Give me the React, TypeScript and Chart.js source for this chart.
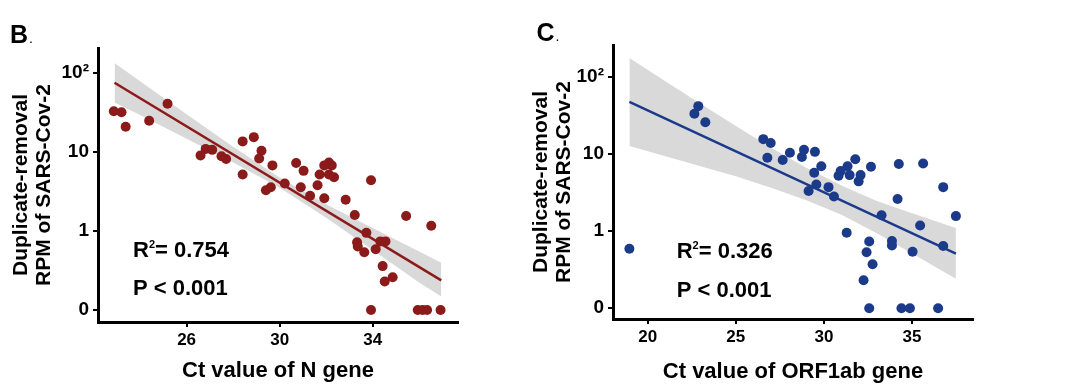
import React, { useEffect, useRef } from "react";
import { Chart, registerables } from "chart.js";

Chart.register(...registerables);

const FONT = "'Liberation Sans', Arial, Helvetica, sans-serif";

// ---------- Panel B: Ct value of N gene ----------
const nCt = [
  22.87, 23.2, 23.38, 24.39, 25.18, 26.6, 26.82, 27.1, 27.5, 27.7,
  28.41, 28.41, 28.89, 29.22, 29.12, 29.69, 29.41, 29.62, 30.22, 30.71,
  31.03, 30.91, 31.31, 31.63, 31.72, 31.92, 32.12, 32.24, 32.12, 32.34,
  31.92, 32.84, 33.23, 33.73, 33.93, 33.33, 33.36, 33.64, 34.13, 34.33,
  34.55, 34.43, 34.52, 34.86, 35.44, 36.52, 33.93, 35.94, 36.15, 36.34,
  36.92,
];
const nRpm = [
  33, 32, 21, 25, 41, 9.1, 11, 10.7, 8.9, 8.2,
  13.7, 5.2, 15.5, 10.4, 8.3, 6.8, 3.3, 3.6, 4.0, 7.3,
  5.8, 3.6, 2.8, 3.8, 5.2, 6.8, 7.4, 6.8, 5.2, 4.8,
  2.6, 2.5, 1.6, 0.95, 4.4, 0.72, 0.64, 0.54, 0.59, 0.74,
  0.74, 0.36, 0.23, 0.26, 1.55, 1.17, 0, 0, 0, 0,
  0,
];
// fitted line and 95% band, in log10(RPM) units
const nFitX = [22.9, 36.95];
const nFitLog = [1.88, -0.625];
const nBandX = [22.9, 24, 26, 28, 30, 32, 34, 36, 36.95];
const nBandUpper = [2.13, 1.9, 1.48, 1.07, 0.68, 0.34, 0.04, -0.26, -0.4];
const nBandLower = [1.63, 1.47, 1.17, 0.87, 0.55, 0.17, -0.24, -0.65, -0.83];
const nXTicks = [26, 30, 34];

// ---------- Panel C: Ct value of ORF1ab gene ----------
const oCt = [
  18.96, 22.65, 22.87, 23.27, 26.56, 26.98, 26.79, 27.66, 28.07, 28.75,
  28.87, 29.49, 29.85, 29.45, 29.57, 29.13, 30.26, 30.57, 30.83, 30.95,
  31.34, 31.46, 31.78, 32.08, 31.97, 32.67, 31.29, 32.57, 32.42, 32.76,
  32.25, 33.27, 33.86, 33.86, 34.18, 34.25, 35.03, 35.46, 35.63, 36.77,
  36.77, 37.49, 32.57, 34.4, 34.88, 36.48,
];
const oRpm = [
  0.59, 33, 41.5, 25.7, 15.5, 13.8, 8.9, 8.3, 10.3, 9.1,
  11.3, 10.6, 6.9, 5.7, 4.0, 3.3, 3.7, 2.8, 5.2, 6.0,
  6.9, 5.3, 8.5, 5.3, 4.4, 6.8, 0.95, 0.73, 0.53, 0.37,
  0.23, 1.6, 0.74, 0.65, 2.6, 7.4, 0.54, 1.18, 7.5, 3.7,
  0.64, 1.56, 0, 0, 0, 0,
];
const oFitX = [18.96, 37.49];
const oFitLog = [1.674, -0.293];
const oBandX = [18.96, 21, 23, 25, 27, 29, 31, 33, 35, 37.49];
const oBandUpper = [2.24, 1.94, 1.65, 1.36, 1.08, 0.82, 0.59, 0.39, 0.23, 0.04];
const oBandLower = [1.1, 0.97, 0.84, 0.71, 0.56, 0.4, 0.21, -0.03, -0.29, -0.62];
const oXTicks = [20, 25, 30, 35];

// ---------- shared y axis (pseudo-log: 0, 1, 10, 10^2) ----------
const yTickVals = [-1, 0, 1, 2];
const yTickLabels = ["0", "1", "10", "10\u00B2"];
const yTitle = ["Duplicate-removal", "RPM of SARS-Cov-2"];

const RED = "#8B1A1A";
const BLUE = "#1B3A8A";
const BAND = "#D9D9D9";

const toPos = (v: number) => (v === 0 ? -1 : Math.log10(v));

type Spec = {
  letter: string;
  letterX: number;
  letterY: number;
  ct: number[];
  rpm: number[];
  fitX: number[];
  fitLog: number[];
  bandX: number[];
  bandUpper: number[];
  bandLower: number[];
  xTicks: number[];
  xMin: number;
  xMax: number;
  yMin: number;
  yMax: number;
  xTitle: string;
  color: string;
  r2: string;
  pText: string;
  textX: number;
  textY: number;
  padTop: number;
  padRight: number;
  yAxisW: number;
  xAxisH: number;
  xTitlePad: number;
};

function textPlugin(p: Spec) {
  return {
    id: "panelText" + p.letter,
    afterDraw(chart: any) {
      const ctx = chart.ctx as CanvasRenderingContext2D;
      ctx.save();
      ctx.fillStyle = "#000";
      ctx.textBaseline = "alphabetic";
      ctx.textAlign = "left";
      ctx.font = `bold 25px ${FONT}`;
      ctx.fillText(p.letter, p.letterX, p.letterY);
      const lw = ctx.measureText(p.letter).width;
      ctx.font = `14px ${FONT}`;
      ctx.fillText(".", p.letterX + lw + 1, p.letterY);

      ctx.font = `bold 22px ${FONT}`;
      ctx.fillText("R", p.textX, p.textY);
      const rw = ctx.measureText("R").width;
      ctx.font = `bold 11px ${FONT}`;
      ctx.fillText("2", p.textX + rw, p.textY - 9);
      const sw = ctx.measureText("2").width;
      ctx.font = `bold 22px ${FONT}`;
      ctx.fillText("= " + p.r2, p.textX + rw + sw, p.textY);
      ctx.fillText(p.pText, p.textX, p.textY + 38.5);
      ctx.restore();
    },
  };
}

function buildConfig(p: Spec): any {
  const pts = p.ct.map((x, i) => ({ x, y: toPos(p.rpm[i]) }));
  const lower = p.bandX.map((x, i) => ({ x, y: p.bandLower[i] }));
  const upper = p.bandX.map((x, i) => ({ x, y: p.bandUpper[i] }));
  const fit = p.fitX.map((x, i) => ({ x, y: p.fitLog[i] }));
  const axisCommon = {
    grid: {
      display: true,
      drawOnChartArea: false,
      drawTicks: true,
      tickLength: 5,
      color: "#000",
      lineWidth: 2,
    },
    border: { display: true, color: "#000", width: 3 },
  };
  return {
    type: "scatter",
    data: {
      datasets: [
        {
          type: "line",
          data: lower,
          borderWidth: 0,
          pointRadius: 0,
          fill: false,
          order: 3,
        },
        {
          type: "line",
          data: upper,
          borderWidth: 0,
          pointRadius: 0,
          fill: "-1",
          backgroundColor: BAND,
          order: 2,
        },
        {
          type: "line",
          data: fit,
          borderColor: p.color,
          borderWidth: 2.5,
          pointRadius: 0,
          fill: false,
          order: 1,
        },
        {
          type: "scatter",
          data: pts,
          backgroundColor: p.color,
          borderColor: p.color,
          borderWidth: 0,
          pointRadius: 5,
          order: 0,
        },
      ],
    },
    options: {
      responsive: false,
      animation: false,
      events: [],
      layout: { padding: { left: 0, top: p.padTop, right: p.padRight, bottom: 0 } },
      plugins: { legend: { display: false }, tooltip: { enabled: false } },
      scales: {
        x: {
          type: "linear",
          min: p.xMin,
          max: p.xMax,
          afterBuildTicks: (s: any) => {
            s.ticks = p.xTicks.map((v) => ({ value: v }));
          },
          afterFit: (s: any) => {
            s.height = p.xAxisH;
          },
          ticks: {
            color: "#000",
            padding: 3,
            font: { family: FONT, size: 17, weight: "bold" },
          },
          title: {
            display: true,
            text: p.xTitle,
            color: "#000",
            font: { family: FONT, size: 22, weight: "bold" },
            padding: { top: 0, bottom: p.xTitlePad },
          },
          ...axisCommon,
        },
        y: {
          type: "linear",
          min: p.yMin,
          max: p.yMax,
          afterBuildTicks: (s: any) => {
            s.ticks = yTickVals.map((v) => ({ value: v }));
          },
          afterFit: (s: any) => {
            s.width = p.yAxisW;
          },
          ticks: {
            color: "#000",
            padding: 4,
            font: { family: FONT, size: 19, weight: "bold" },
            callback: (v: number) => {
              const i = yTickVals.indexOf(v);
              return i >= 0 ? yTickLabels[i] : "";
            },
          },
          title: {
            display: true,
            text: yTitle,
            color: "#000",
            font: { family: FONT, size: 21, weight: "bold", lineHeight: 1.1 },
            padding: { top: 9.5, bottom: 0 },
          },
          ...axisCommon,
        },
      },
    },
    plugins: [textPlugin(p)],
  };
}

const specB: Spec = {
  letter: "B",
  letterX: 10,
  letterY: 42.5,
  ct: nCt,
  rpm: nRpm,
  fitX: nFitX,
  fitLog: nFitLog,
  bandX: nBandX,
  bandUpper: nBandUpper,
  bandLower: nBandLower,
  xTicks: nXTicks,
  xMin: 22.19,
  xMax: 37.67,
  yMin: -1.152,
  yMax: 2.32,
  xTitle: "Ct value of N gene",
  color: RED,
  r2: "0.754",
  pText: "P < 0.001",
  textX: 133,
  textY: 256.5,
  padTop: 48,
  padRight: 62,
  yAxisW: 98,
  xAxisH: 66,
  xTitlePad: 4,
};

const specC: Spec = {
  letter: "C",
  letterX: 16.5,
  letterY: 41,
  ct: oCt,
  rpm: oRpm,
  fitX: oFitX,
  fitLog: oFitLog,
  bandX: oBandX,
  bandUpper: oBandUpper,
  bandLower: oBandLower,
  xTicks: oXTicks,
  xMin: 18.03,
  xMax: 38.46,
  yMin: -1.14,
  yMax: 2.41,
  xTitle: "Ct value of ORF1ab gene",
  color: BLUE,
  r2: "0.326",
  pText: "P < 0.001",
  textX: 156.7,
  textY: 258,
  padTop: 45,
  padRight: 107,
  yAxisW: 93,
  xAxisH: 69,
  xTitlePad: 2.5,
};

function Panel({ spec, left, width }: { spec: Spec; left: number; width: number }) {
  const ref = useRef<HTMLCanvasElement | null>(null);
  useEffect(() => {
    if (!ref.current) return;
    const chart = new Chart(ref.current, buildConfig(spec));
    return () => chart.destroy();
  }, [spec]);
  return (
    <div style={{ position: "absolute", left, top: 0, width, height: 388 }}>
      <canvas
        ref={ref}
        width={width}
        height={388}
        style={{ display: "block", width, height: 388 }}
      />
    </div>
  );
}

export default function App() {
  return (
    <div
      style={{
        position: "absolute",
        left: 0,
        top: 0,
        width: 1080,
        height: 388,
        background: "#fff",
        overflow: "hidden",
      }}
    >
      <Panel spec={specB} left={0} width={520} />
      <Panel spec={specC} left={520} width={560} />
    </div>
  );
}
